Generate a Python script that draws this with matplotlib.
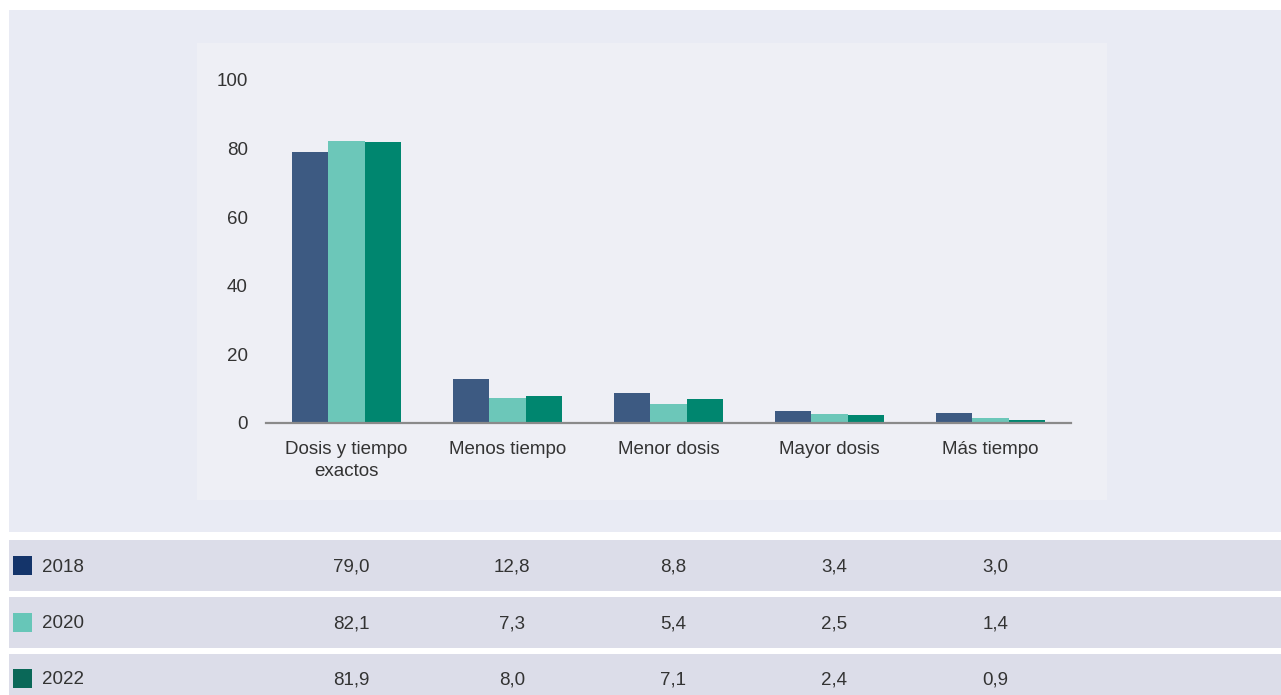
import numpy as np
import matplotlib
matplotlib.use("Agg")
from matplotlib import pyplot as plt
from matplotlib.patches import Rectangle
from matplotlib.transforms import blended_transform_factory

categories = ["Dosis y tiempo\nexactos", "Menos tiempo", "Menor dosis", "Mayor dosis", "Más tiempo"]
years = ["2018", "2020", "2022"]
v2018 = [79.0, 12.8, 8.8, 3.4, 3.0]
v2020 = [82.1, 7.3, 5.4, 2.5, 1.4]
v2022 = [81.9, 8.0, 7.1, 2.4, 0.9]
series = [v2018, v2020, v2022]
yticks = [0, 20, 40, 60, 80, 100]

bar_colors = ["#3d5a82", "#6cc7b9", "#00866f"]
swatch_colors = ["#14346a", "#67c6b8", "#0a6858"]
text_color = "#333333"
fs = 13.5

plt.rcParams["font.family"] = ["Liberation Sans", "DejaVu Sans"]

W, H = 1281, 695
fig = plt.figure(figsize=(W / 100, H / 100), dpi=100)
fig.patch.set_facecolor("white")


# helper: rectangle in pixel coords (top-left origin), drawn behind the axes
def px_rect(x0, y0, x1, y1, color):
	fig.patches.append(Rectangle((x0 / W, 1 - y1 / H), (x1 - x0) / W, (y1 - y0) / H,
	                             transform=fig.transFigure, facecolor=color,
	                             edgecolor="none", zorder=-1))


# background panels
px_rect(9, 10, 1281, 532, "#e9ebf4")
px_rect(197, 43, 1107, 500, "#eeeff5")
for y0, y1 in [(540, 591), (597, 648), (654, 700)]:
	px_rect(9, y0, 1281, y1, "#dcdde9")

# axes area
ax = fig.add_axes([266 / W, 1 - 423 / H, (1071 - 266) / W, (423 - 80) / H])
ax.set_facecolor("none")

x = np.arange(len(categories))
width = 0.225
for i, vals in enumerate(series):
	ax.bar(x + (i - 1) * width, vals, width, color=bar_colors[i], zorder=2)

ax.set_xlim(-0.5, len(categories) - 0.5)
ax.set_ylim(0, 100)
ax.set_yticks(yticks)
ax.set_yticklabels([str(t) for t in yticks])
ax.set_xticks(x)
ax.set_xticklabels(categories, linespacing=1.35)
ax.tick_params(axis="y", length=0, pad=13, labelsize=fs, labelcolor=text_color)
ax.tick_params(axis="x", length=0, pad=13, labelsize=fs, labelcolor=text_color)
for s in ["top", "right", "left"]:
	ax.spines[s].set_visible(False)
ax.spines["bottom"].set_color("#8a8a8a")
ax.spines["bottom"].set_linewidth(1.6)
ax.spines["bottom"].set_zorder(3)

# table below the chart
tr = blended_transform_factory(ax.transData, fig.transFigure)
row_y = [567, 624, 680]
for i, year in enumerate(years):
	yc = row_y[i]
	px_rect(13, yc - 11, 32, yc + 8, swatch_colors[i])
	fig.text(42 / W, 1 - yc / H, year, ha="left", va="center", fontsize=fs, color=text_color)
	for j, v in enumerate(series[i]):
		fig.text(x[j] + 0.03, 1 - yc / H, f"{v:.1f}".replace(".", ","), transform=tr,
		         ha="center", va="center", fontsize=fs, color=text_color)

plt.savefig("out.png", dpi=100)
